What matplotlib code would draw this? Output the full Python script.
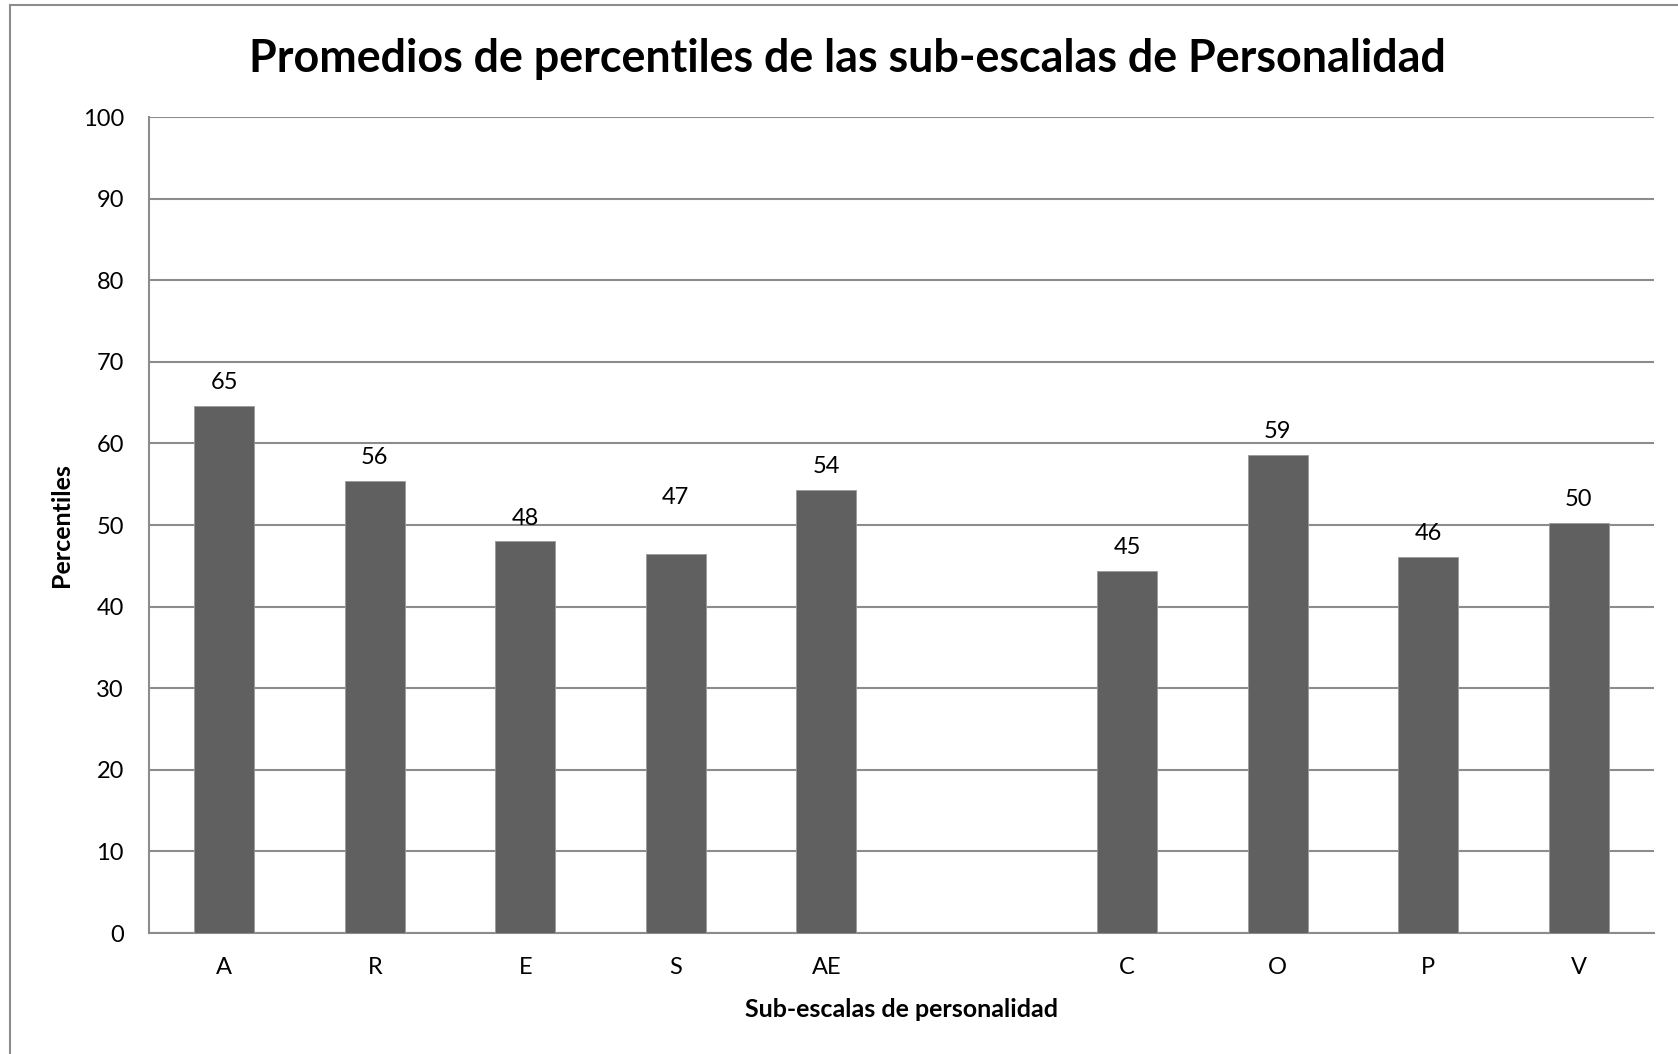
import matplotlib.pyplot as plt
import numpy as np
from matplotlib.patches import Rectangle

# sub-escalas (empty slot between the two groups)
categorias = ['A', 'R', 'E', 'S', 'AE', '', 'C', 'O', 'P', 'V']
percentiles = [64.6, 55.4, 48.0, 46.5, 54.3, np.nan, 44.4, 58.6, 46.1, 50.3]
etiquetas = ['65', '56', '48', '47', '54', '', '45', '59', '46', '50']

plt.rcParams['font.family'] = ['Lato', 'DejaVu Sans']

fig = plt.figure(figsize=(16.78, 10.54), dpi=100)
ax = fig.add_axes([149 / 1678, 1 - 933 / 1054, (1654 - 149) / 1678, (933 - 117) / 1054])

# outer chart border (cut by the image on right and bottom)
fig.patches.append(Rectangle((10 / 1678, -0.1), 1.2, 1.1 - 5 / 1054,
                             transform=fig.transFigure, fill=False,
                             edgecolor='#8c8c8c', linewidth=1.5))

x = np.arange(len(categorias))
vals = np.nan_to_num(percentiles)
ax.bar(x, vals, width=0.4, color='#606060', edgecolor='#9a9a9a', linewidth=0.6, zorder=3)

# S label sits higher in the original
extra = {3: 24}
for i, (v, t) in enumerate(zip(vals, etiquetas)):
    if t:
        ax.annotate(t, (x[i], v), xytext=(0, 9 + extra.get(i, 0)), textcoords='offset points',
                    ha='center', va='bottom', fontsize=17, color='#000000')

ax.set_xlim(-0.5, len(categorias) - 0.5)
ax.set_ylim(0, 100)
ax.set_yticks(range(0, 101, 10))
ax.set_xticks(x)
ax.set_xticklabels(categorias)
ax.tick_params(axis='both', length=0, labelsize=17, colors='#000000')
ax.tick_params(axis='y', pad=18)
ax.tick_params(axis='x', pad=17)

ax.grid(axis='y', color='#8c8c8c', linewidth=1.5, zorder=0)
for s in ['top', 'right']:
    ax.spines[s].set_visible(False)
for s in ['left', 'bottom']:
    ax.spines[s].set_color('#8c8c8c')
    ax.spines[s].set_linewidth(1.5)

ax.set_ylabel('Percentiles', fontsize=18, fontweight='bold', labelpad=7)
ax.set_xlabel('Sub-escalas de personalidad', fontsize=18, fontweight='bold', labelpad=15)
fig.text(0.505, 1 - 59 / 1054, 'Promedios de percentiles de las sub-escalas de Personalidad',
         ha='center', va='center', fontsize=32.3, fontweight='bold')

fig.savefig('out.png', dpi=100)
